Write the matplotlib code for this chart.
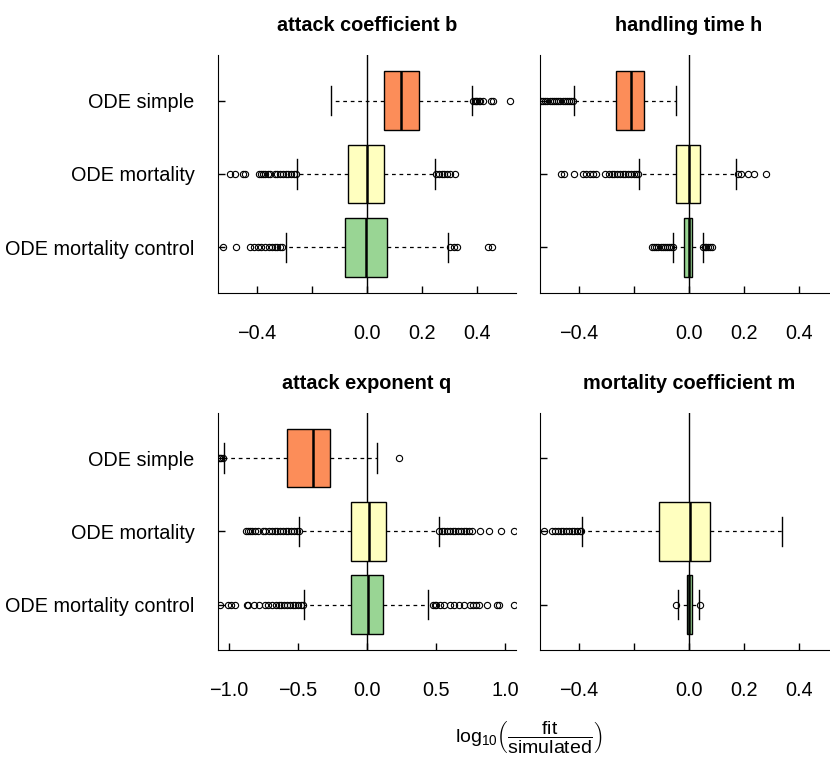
import numpy as np
import matplotlib
matplotlib.use('Agg')
import matplotlib.pyplot as plt

plt.rcParams['font.family'] = ['Liberation Sans', 'DejaVu Sans']
plt.rcParams['mathtext.fontset'] = 'custom'
plt.rcParams['mathtext.rm'] = 'Liberation Sans'
plt.rcParams['mathtext.it'] = 'Liberation Sans:italic'

# groups, top to bottom
groups = ['ODE simple', 'ODE mortality', 'ODE mortality control']
colors = ['#FC8D59', '#FFFFBF', '#99D594']

titles = ['attack coefficient b', 'handling time h',
          'attack exponent q', 'mortality coefficient m']

# box stats: whislo, q1, med, q3, whishi (None = no data)
b_stats = [[-0.130, 0.060, 0.123, 0.190, 0.380],
           [-0.255, -0.068, 0.000, 0.060, 0.245],
           [-0.293, -0.079, -0.004, 0.073, 0.295]]
h_stats = [[-0.415, -0.265, -0.208, -0.164, -0.047],
           [-0.181, -0.048, 0.000, 0.042, 0.173],
           [-0.057, -0.016, 0.000, 0.012, 0.050]]
q_stats = [[-1.034, -0.581, -0.392, -0.271, 0.073],
           [-0.494, -0.114, 0.015, 0.140, 0.521],
           [-0.455, -0.114, 0.010, 0.119, 0.443]]
m_stats = [None,
           [-0.388, -0.108, 0.006, 0.078, 0.339],
           [-0.038, -0.008, 0.000, 0.010, 0.038]]

# outliers
b_fliers = [[0.385, 0.39, 0.395, 0.40, 0.405, 0.41, 0.42, 0.449, 0.457, 0.52],
            [-0.497, -0.479, -0.451, -0.442, -0.393, -0.385, -0.378, -0.37, -0.36,
             -0.35, -0.335, -0.325, -0.315, -0.305, -0.295, -0.285, -0.275, -0.265,
             -0.258, 0.25, 0.26, 0.27, 0.28, 0.29, 0.30, 0.32],
            [-0.521, -0.476, -0.424, -0.41, -0.395, -0.385, -0.37, -0.355, -0.345,
             -0.335, -0.325, -0.315, -0.308, 0.30, 0.315, 0.327, 0.437, 0.452]]
h_fliers = [[-0.536, -0.53, -0.522, -0.515, -0.505, -0.498, -0.49, -0.482, -0.474,
             -0.466, -0.458, -0.45, -0.442, -0.435, -0.427, -0.42],
            [-0.463, -0.453, -0.417, -0.384, -0.372, -0.36, -0.348, -0.336, -0.305,
             -0.29, -0.28, -0.27, -0.26, -0.25, -0.24, -0.23, -0.22, -0.21, -0.2,
             -0.19, -0.184, 0.179, 0.188, 0.216, 0.238, 0.279],
            [-0.132, -0.125, -0.118, -0.11, -0.102, -0.095, -0.088, -0.08, -0.072,
             -0.064, -0.058, 0.052, 0.058, 0.064, 0.07, 0.078, 0.086]]
q_fliers = [[-1.075, -1.065, -1.055, -1.045, 0.232],
            [-0.879, -0.86, -0.845, -0.83, -0.81, -0.79, -0.755, -0.74, -0.71, -0.69,
             -0.67, -0.65, -0.63, -0.61, -0.59, -0.57, -0.55, -0.53, -0.51, -0.495,
             0.525, 0.54, 0.56, 0.58, 0.60, 0.62, 0.64, 0.66, 0.68, 0.70, 0.72,
             0.74, 0.758, 0.819, 0.884, 0.969, 1.068],
            [-1.065, -1.01, -0.985, -0.955, -0.872, -0.86, -0.82, -0.78, -0.74,
             -0.72, -0.685, -0.66, -0.64, -0.62, -0.6, -0.58, -0.56, -0.54, -0.52,
             -0.5, -0.48, -0.467, 0.48, 0.49, 0.50, 0.53, 0.56, 0.60, 0.63, 0.67,
             0.70, 0.746, 0.765, 0.79, 0.814, 0.867, 0.94, 0.957, 1.068]]
m_fliers = [None,
            [-0.526, -0.496, -0.485, -0.475, -0.465, -0.455, -0.445, -0.435, -0.425,
             -0.415, -0.405, -0.395, -0.39],
            [-0.045, 0.040]]

top_ticks = [-0.4, -0.2, 0.0, 0.2, 0.4]
top_labels = ['\u22120.4', '', '0.0', '0.2', '0.4']
bot_ticks = [-1.0, -0.5, 0.0, 0.5, 1.0]
bot_labels = ['\u22121.0', '\u22120.5', '0.0', '0.5', '1.0']

panels = [
    (titles[0], b_stats, b_fliers, (-0.54, 0.54), top_ticks, top_labels, True),
    (titles[1], h_stats, h_fliers, (-0.54, 0.54), top_ticks, top_labels, False),
    (titles[2], q_stats, q_fliers, (-1.08, 1.08), bot_ticks, bot_labels, True),
    (titles[3], m_stats, m_fliers, (-0.54, 0.54), top_ticks, top_labels, False),
]

W, H = 830, 764
rects = [(218, 55, 516, 293), (540, 55, 837.5, 293),
         (218, 412.7, 516, 650), (540, 412.7, 837.5, 650)]

fig = plt.figure(figsize=(W / 100, H / 100), dpi=100)

positions = [3, 2, 1]
for (title, stats, fliers, xlim, ticks, labels, show_y), (x0, y0, x1, y1) in zip(panels, rects):
    ax = fig.add_axes([x0 / W, 1 - y1 / H, (x1 - x0) / W, (y1 - y0) / H])
    ax.axvline(0, color='black', lw=1, zorder=1)
    bxp_stats, pos, cols = [], [], []
    for i, s in enumerate(stats):
        if s is None:
            continue
        bxp_stats.append(dict(whislo=s[0], q1=s[1], med=s[2], q3=s[3], whishi=s[4],
                              fliers=np.array(fliers[i])))
        pos.append(positions[i])
        cols.append(colors[i])
    res = ax.bxp(bxp_stats, positions=pos, widths=0.8, capwidths=0.4, vert=False,
                 patch_artist=True, manage_ticks=False,
                 boxprops=dict(edgecolor='black', linewidth=1),
                 medianprops=dict(color='black', linewidth=1.8),
                 whiskerprops=dict(color='black', linewidth=0.9, linestyle=(0, (3, 3))),
                 capprops=dict(color='black', linewidth=1),
                 flierprops=dict(marker='o', markerfacecolor='none', markeredgecolor='black',
                                 markersize=4.5, markeredgewidth=0.8))
    for patch, c in zip(res['boxes'], cols):
        patch.set_facecolor(c)
        patch.set_zorder(2)
    ax.set_xlim(*xlim)
    ax.set_ylim(0.38, 3.62)
    ax.set_xticks(ticks)
    ax.set_xticklabels(labels)
    ax.set_yticks(positions)
    ax.set_yticklabels(groups if show_y else [])
    ax.spines['top'].set_visible(False)
    ax.spines['right'].set_visible(False)
    ax.tick_params(axis='x', direction='in', length=5, width=1, pad=22.5, labelsize=14.3)
    ax.tick_params(axis='y', direction='in', length=5, width=1, pad=17, labelsize=14.3)
    ax.set_title(title, fontsize=14.3, fontweight='bold', pad=17)

fig.text(529 / W, 1 - 738 / H,
         r'$\mathrm{log}_{10}\left(\dfrac{\mathrm{fit}}{\mathrm{simulated}}\right)$',
         ha='center', va='center', fontsize=14)

fig.savefig('out.png', dpi=100)
